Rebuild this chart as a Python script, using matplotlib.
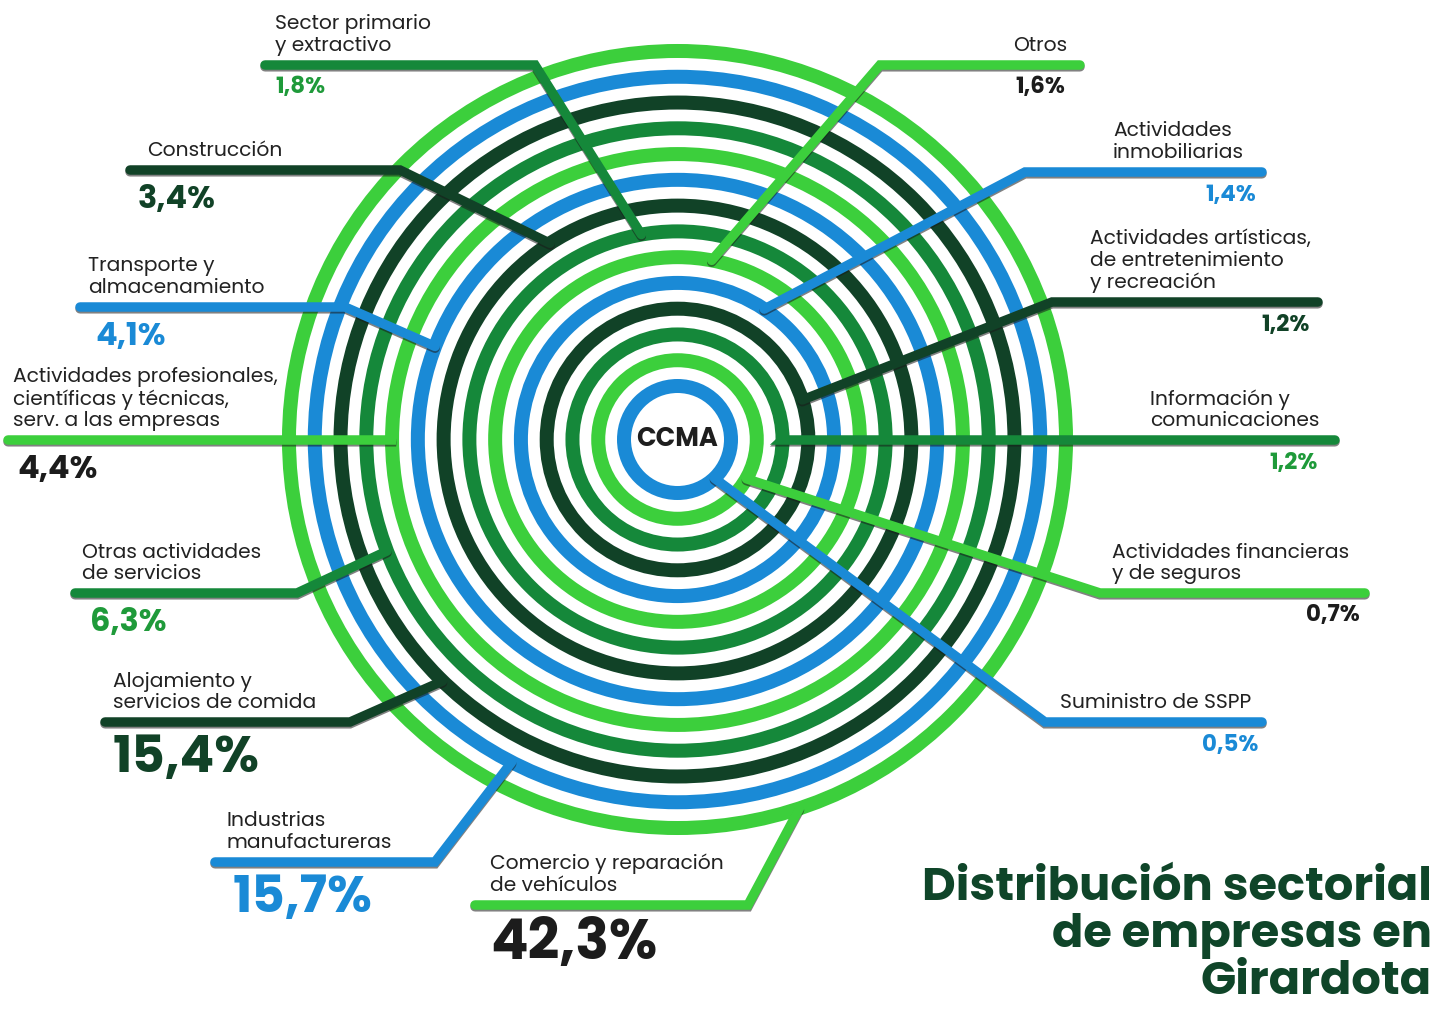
import numpy as np
import matplotlib
matplotlib.use("Agg")
import matplotlib.pyplot as plt
from matplotlib.patches import Circle

# ---------------- data ----------------
categories = [
    "Comercio y reparación\nde vehículos",
    "Industrias\nmanufactureras",
    "Alojamiento y\nservicios de comida",
    "Otras actividades\nde servicios",
    "Actividades profesionales,\ncientíficas y técnicas,\nserv. a las empresas",
    "Transporte y\nalmacenamiento",
    "Construcción",
    "Sector primario\ny extractivo",
    "Otros",
    "Actividades\ninmobiliarias",
    "Actividades artísticas,\nde entretenimiento\ny recreación",
    "Información y\ncomunicaciones",
    "Actividades financieras\ny de seguros",
    "Suministro de SSPP",
]
values = [42.3, 15.7, 15.4, 6.3, 4.4, 4.1, 3.4, 1.8, 1.6, 1.4, 1.2, 1.2, 0.7, 0.5]
value_labels = ["42,3%", "15,7%", "15,4%", "6,3%", "4,4%", "4,1%", "3,4%",
                "1,8%", "1,6%", "1,4%", "1,2%", "1,2%", "0,7%", "0,5%"]
center_label = "CCMA"
title = "Distribución sectorial\nde empresas en\nGirardota"

# ---------------- style / layout ----------------
BLUE = "#1a8ad6"
LIGHT = "#3ccf3c"
MID = "#15883a"
DARK = "#114227"
TEXT = "#222222"
palette = [BLUE, LIGHT, MID, DARK]  # from innermost ring outward (cyclic)

value_colors = ["#1c1c1c", BLUE, DARK, "#1f9a3a", "#1c1c1c", BLUE, DARK,
                "#1f9a3a", "#1c1c1c", BLUE, DARK, "#1f9a3a", "#1c1c1c", BLUE]

W, H = 1451, 1009
CX, CY = 677.5, 439.5
R0, DR = 53.5, 25.77
RING_W = 14.0 * 0.72
LEAD_W = 9.5 * 0.72

# leader layout (pixel space): attach angle (deg), elbow, end x, side, text x, value x
angles = [-71.7, 242.8, 225.8, 201.0, 180.0, 159.0, 123.0, 100.0, 79.2, 56.4, 17.6, 0.0, -29.7, -46.4]
elbows = [(748, 905), (435, 862), (350, 722), (297, 593), (392, 440), (345, 307), (400, 170),
          (535, 65), (880, 65), (1025, 172), (1052, 302), (782, 440), (1100, 593), (1045, 722)]
ends_x = [475, 215, 105, 75, 8, 80, 130, 265, 1080, 1262, 1318, 1335, 1365, 1262]
sides = ["L", "L", "L", "L", "L", "L", "L", "L", "R", "R", "R", "R", "R", "R"]
text_x = [490, 227, 113, 82, 13, 88, 147, 275, 1067, 1113, 1090, 1150, 1112, 1060]
text_ha = ["left"] * 8 + ["right", "left", "left", "left", "left", "left"]
val_x = [490, 233, 113, 90, 17, 95, 138, 275, 1065, 1256, 1310, 1318, 1360, 1258]

LABEL_FONT = ["Poppins", "Open Sans", "DejaVu Sans"]
BOLD_FONT = ["Poppins", "Lato", "DejaVu Sans"]

fig = plt.figure(figsize=(W / 100, H / 100), dpi=100)
ax = fig.add_axes([0, 0, 1, 1])
ax.set_xlim(0, W)
ax.set_ylim(H, 0)
ax.axis("off")

# ring order by rank: largest value -> outermost ring
order = np.argsort(-np.array(values), kind="stable")
n = len(values)
ring_of = {}
for rank, idx in enumerate(order):
    ring_of[idx] = n - 1 - rank

for i in range(n):
    r = R0 + DR * i
    ax.add_patch(Circle((CX, CY), r, fill=False, lw=RING_W,
                        edgecolor=palette[i % 4], zorder=2))

for k in range(n):
    ring = ring_of[k]
    r = R0 + DR * ring
    col = palette[ring % 4]
    a = np.deg2rad(angles[k])
    px, py = CX + r * np.cos(a), CY - r * np.sin(a)
    ex, ey = elbows[k]
    xs = [px, ex, ends_x[k]]
    ys = [py, ey, ey]
    # shadow
    ax.plot(xs, [y + 1.8 for y in ys], color="#1a1a1a", lw=LEAD_W, alpha=0.55,
            solid_capstyle="round", solid_joinstyle="miter", zorder=3)
    ax.plot(xs, ys, color=col, lw=LEAD_W, solid_capstyle="round",
            solid_joinstyle="miter", zorder=4)

    # category text
    ax.text(text_x[k], ey - 9, categories[k], ha=text_ha[k], va="bottom",
            fontsize=14.6, color=TEXT, family=LABEL_FONT, linespacing=1.1, zorder=5)

    # value text
    v = values[k]
    if v >= 30:
        fs, off = 40, 41
    elif v >= 10:
        fs, off = 37, 38
    elif v >= 2:
        fs, off = 23, 30
    else:
        fs, off = 16.5, 23
    ha = "left" if sides[k] == "L" else "right"
    ax.text(val_x[k], ey + off, value_labels[k], ha=ha, va="center",
            fontsize=fs, fontweight="bold", color=value_colors[k],
            family=BOLD_FONT, zorder=5)

ax.text(CX, CY, center_label, ha="center", va="center", fontsize=18.5,
        fontweight="bold", color="#1e1e1e", family=BOLD_FONT, zorder=5)

ax.text(1432, 994, title, ha="right", va="baseline", fontsize=33.4,
        fontweight="bold", color="#0f4529", family=BOLD_FONT,
        linespacing=1.03, zorder=5)

fig.savefig("out.png", dpi=100, facecolor="white")
